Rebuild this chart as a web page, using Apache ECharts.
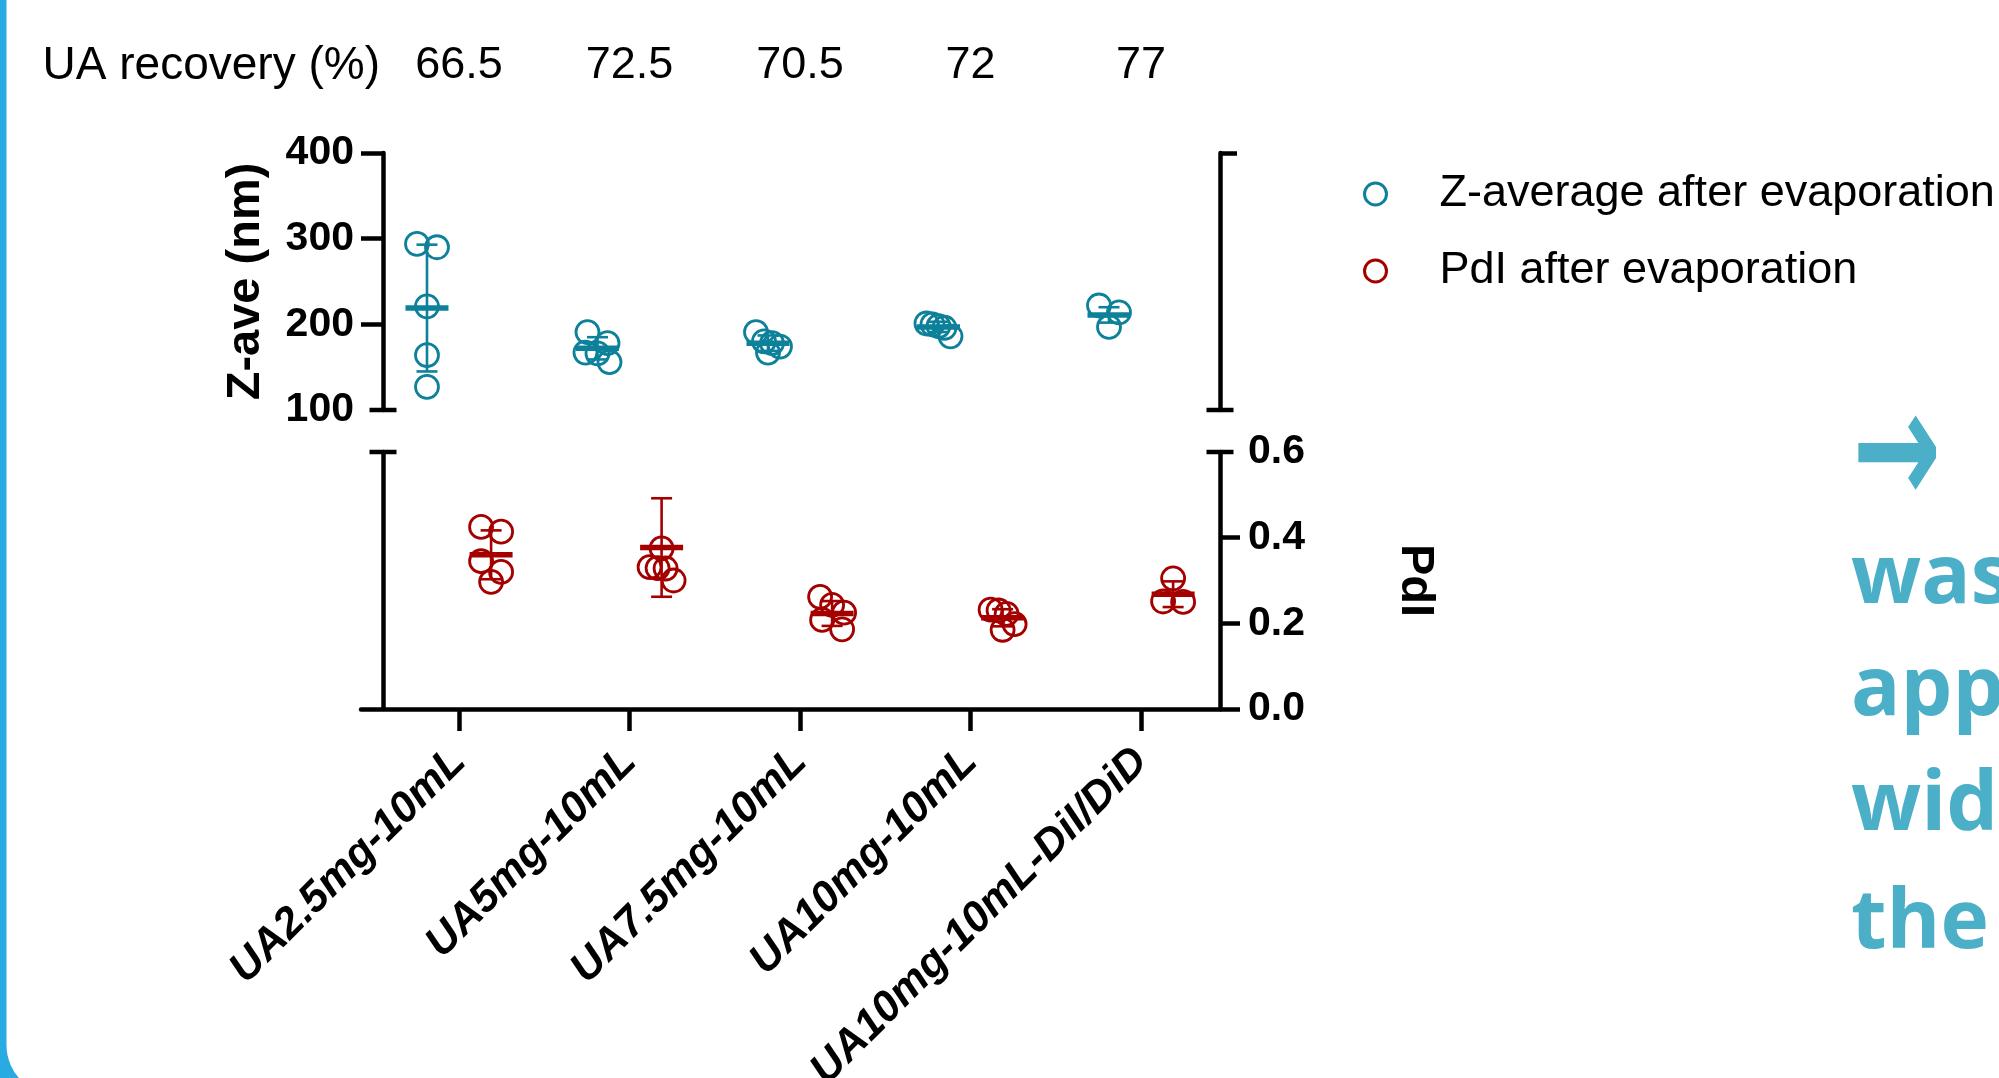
<!DOCTYPE html>
<html>
<head>
<meta charset="utf-8">
<script src="https://cdn.jsdelivr.net/npm/echarts@6/dist/echarts.min.js"></script>
<style>
  html, body { margin: 0; padding: 0; background: #ffffff; }
  #chart { width: 1999px; height: 1078px; }
</style>
</head>
<body>
<div id="chart"></div>
<script>
// ---- data ----
const categories = ['UA2.5mg-10mL', 'UA5mg-10mL', 'UA7.5mg-10mL', 'UA10mg-10mL', 'UA10mg-10mL-DiI/DiD'];
const recovery = ['66.5', '72.5', '70.5', '72', '77'];

// Z-average (nm), individual replicates per formulation
const zPoints = [
  [294, 290, 221, 164, 127],
  [191, 178, 167, 166, 156],
  [191, 180, 178, 174, 167],
  [201, 200, 198, 196, 186],
  [222, 214, 197]
];
const zMean = [219, 172, 178, 197, 211];
const zSD = [74, 13, 9, 6, 9];

// PdI, individual replicates per formulation
const pdiPoints = [
  [0.425, 0.414, 0.345, 0.320, 0.297],
  [0.375, 0.331, 0.329, 0.328, 0.300],
  [0.262, 0.243, 0.225, 0.208, 0.186],
  [0.232, 0.230, 0.222, 0.198, 0.185],
  [0.305, 0.251, 0.250]
];
const pdiMean = [0.360, 0.377, 0.223, 0.213, 0.268];
const pdiSD = [0.057, 0.115, 0.029, 0.020, 0.030];

const zTicks = [100, 200, 300, 400];
const pdiTicks = [0, 0.2, 0.4, 0.6];

// ---- layout & style ----
const FONT = '"Liberation Sans", Arial, sans-serif';
const TEAL = '#0d8199';
const RED = '#a40000';
const BLUE = '#29abe2';
const CYAN = '#4bafc8';
const AXIS_W = 4.5;

const PLOT_LEFT = 361;      // start of the x-axis line
const PLOT_RIGHT = 1220;    // right y axes
const AXIS_SHIFT = 22;      // left y axes sit this far inside the x-axis start
const TOP_Y = 153;
const BOT_Y = 452;
const PANEL_H = 257;
const X_MIN = -0.575;
const X_MAX = 4.463;
const CAT_PX = (PLOT_RIGHT - PLOT_LEFT) / (X_MAX - X_MIN);
const SIDE = 0.188;         // Z-ave dots left of the category, PdI dots right of it
const Z_RANGE = [zTicks[0], zTicks[zTicks.length - 1]];
const P_RANGE = [pdiTicks[0], pdiTicks[pdiTicks.length - 1]];
const catIdx = categories.map((c, i) => i);

// simple beeswarm: replicates closer than ~16 px share a row and get spread sideways
function spreadOffsets(vals, pxPerUnit) {
  const order = vals.map((v, i) => i).sort((a, b) => vals[b] - vals[a]);
  const rows = [];
  order.forEach(i => {
    const row = rows[rows.length - 1];
    if (row && (vals[row[0]] - vals[i]) * pxPerUnit < 16) row.push(i);
    else rows.push([i]);
  });
  const off = vals.map(() => 0);
  rows.forEach(row => {
    const k = row.length;
    const step = k > 1 ? Math.min(20, 24 / (k - 1)) : 0;
    row.forEach((i, j) => { off[i] = (j - (k - 1) / 2) * step; });
  });
  return off;
}

function dots(points, side, pxPerUnit) {
  const out = [];
  points.forEach((vals, c) => {
    const off = spreadOffsets(vals, pxPerUnit);
    vals.forEach((v, k) => out.push([c + side + off[k] / CAT_PX, v]));
  });
  return out;
}

// mean bar with ± SD whiskers
function statRenderer(side) {
  return function (params, api) {
    const x = api.value(0) + side;
    const m = api.value(1);
    const s = api.value(2);
    const c = api.coord([x, m]);
    const hi = api.coord([x, m + s]);
    const lo = api.coord([x, m - s]);
    const color = api.visual('color');
    const thin = { stroke: color, lineWidth: 2.6 };
    return {
      type: 'group',
      children: [
        { type: 'line', shape: { x1: c[0], y1: hi[1], x2: c[0], y2: lo[1] }, style: thin },
        { type: 'line', shape: { x1: c[0] - 10.5, y1: hi[1], x2: c[0] + 10.5, y2: hi[1] }, style: thin },
        { type: 'line', shape: { x1: c[0] - 10.5, y1: lo[1], x2: c[0] + 10.5, y2: lo[1] }, style: thin },
        { type: 'line', shape: { x1: c[0] - 21.5, y1: c[1], x2: c[0] + 21.5, y2: c[1] }, style: { stroke: color, lineWidth: 5.5 } }
      ]
    };
  };
}

const axisLineStyle = { color: '#000', width: AXIS_W };
const capSize = [27, AXIS_W];

const chart = echarts.init(document.getElementById('chart'), null, { width: 1999, height: 1078, renderer: 'canvas' });

const option = {
  animation: false,
  textStyle: { fontFamily: FONT, color: '#000' },
  graphic: [
    { type: 'rect', z: -20, silent: true, shape: { x: 0, y: 0, width: 60, height: 1078 }, style: { fill: BLUE } },
    { type: 'rect', z: -19, silent: true, shape: { x: 6.5, y: -60, width: 2100, height: 1155, r: 50 }, style: { fill: '#ffffff' } },
    { type: 'text', x: 1897, y: 457, scaleY: 1.55, style: { text: '\u2192', font: 'bold 106px "Noto Sans", "DejaVu Sans"', fill: CYAN, align: 'center', verticalAlign: 'middle' } },
    { type: 'text', x: 1851, y: 580, style: { text: 'was', font: 'bold 82px "Open Sans"', fill: CYAN, verticalAlign: 'middle' } },
    { type: 'text', x: 1851, y: 692, style: { text: 'app', font: 'bold 82px "Open Sans"', fill: CYAN, verticalAlign: 'middle' } },
    { type: 'text', x: 1851, y: 807, style: { text: 'wid', font: 'bold 82px "Open Sans"', fill: CYAN, verticalAlign: 'middle' } },
    { type: 'text', x: 1851, y: 925, style: { text: 'the', font: 'bold 82px "Open Sans"', fill: CYAN, verticalAlign: 'middle' } }
  ],
  legend: {
    orient: 'vertical',
    left: 1358,
    top: 164,
    itemWidth: 22,
    itemHeight: 22,
    itemGap: 27,
    icon: 'circle',
    selectedMode: false,
    textStyle: { fontSize: 45, color: '#000', fontFamily: FONT, lineHeight: 50, padding: [0, 0, 0, 48], width: 500, overflow: 'none' },
    data: [
      { name: 'Z-average after evaporation', itemStyle: { color: 'rgba(0,0,0,0)', borderColor: TEAL, borderWidth: 3 } },
      { name: 'PdI after evaporation', itemStyle: { color: 'rgba(0,0,0,0)', borderColor: RED, borderWidth: 3 } }
    ]
  },
  grid: [
    { left: PLOT_LEFT, width: PLOT_RIGHT - PLOT_LEFT, top: TOP_Y, height: PANEL_H, outerBoundsMode: 'none', containLabel: false },
    { left: PLOT_LEFT, width: PLOT_RIGHT - PLOT_LEFT, top: BOT_Y, height: PANEL_H, outerBoundsMode: 'none', containLabel: false }
  ],
  xAxis: [
    {
      gridIndex: 0, type: 'value', position: 'top', min: X_MIN, max: X_MAX,
      offset: TOP_Y - 66,
      axisLine: { show: false, onZero: false }, axisTick: { show: false }, splitLine: { show: false },
      axisLabel: {
        customValues: catIdx, formatter: v => recovery[Math.round(v)],
        fontSize: 45, color: '#000', margin: 0, verticalAlign: 'middle'
      },
      name: 'UA recovery (%)', nameLocation: 'start', nameGap: -19,
      nameTextStyle: { fontSize: 46, color: '#000', align: 'right', verticalAlign: 'middle' }
    },
    {
      gridIndex: 1, type: 'value', position: 'bottom', min: X_MIN, max: X_MAX,
      axisLine: { show: true, onZero: false, lineStyle: axisLineStyle },
      axisTick: { show: true, customValues: catIdx, length: 22, lineStyle: { color: '#000', width: AXIS_W } },
      splitLine: { show: false },
      axisLabel: {
        customValues: catIdx, formatter: v => categories[Math.round(v)],
        rotate: 45, fontSize: 43, fontWeight: 'bold', fontStyle: 'italic', color: '#000', margin: 46
      }
    }
  ],
  yAxis: [
    {
      gridIndex: 0, type: 'value', position: 'left', offset: -AXIS_SHIFT,
      min: Z_RANGE[0], max: Z_RANGE[1], interval: 100,
      axisLine: { show: true, onZero: false, lineStyle: axisLineStyle, symbol: ['rect', 'none'], symbolSize: capSize },
      axisTick: { show: true, customValues: zTicks.slice(1), length: 22, lineStyle: { color: '#000', width: AXIS_W } },
      axisLabel: { customValues: zTicks, fontSize: 41, fontWeight: 'bold', color: '#000', margin: 29 },
      splitLine: { show: false },
      name: 'Z-ave (nm)', nameLocation: 'middle', nameGap: 113, nameMoveOverlap: false,
      nameTextStyle: { fontSize: 47, fontWeight: 'bold', color: '#000' }
    },
    {
      gridIndex: 0, type: 'value', position: 'right',
      min: Z_RANGE[0], max: Z_RANGE[1], interval: 100,
      axisLine: { show: true, onZero: false, lineStyle: axisLineStyle, symbol: ['rect', 'none'], symbolSize: capSize },
      axisTick: { show: true, customValues: [Z_RANGE[1]], length: 17, lineStyle: { color: '#000', width: AXIS_W } },
      axisLabel: { show: false },
      splitLine: { show: false }
    },
    {
      gridIndex: 1, type: 'value', position: 'left', offset: -AXIS_SHIFT,
      min: P_RANGE[0], max: P_RANGE[1], interval: 0.2,
      axisLine: { show: true, onZero: false, lineStyle: axisLineStyle, symbol: ['none', 'rect'], symbolSize: capSize },
      axisTick: { show: false },
      axisLabel: { show: false },
      splitLine: { show: false }
    },
    {
      gridIndex: 1, type: 'value', position: 'right',
      min: P_RANGE[0], max: P_RANGE[1], interval: 0.2,
      axisLine: { show: true, onZero: false, lineStyle: axisLineStyle, symbol: ['none', 'rect'], symbolSize: capSize },
      axisTick: { show: true, customValues: pdiTicks.slice(0, -1), length: 20, lineStyle: { color: '#000', width: AXIS_W } },
      axisLabel: { customValues: pdiTicks, formatter: v => v.toFixed(1), fontSize: 41, fontWeight: 'bold', color: '#000', margin: 28 },
      splitLine: { show: false },
      name: 'PdI', nameLocation: 'middle', nameRotate: -90, nameGap: 171, nameMoveOverlap: false,
      nameTextStyle: { fontSize: 47, fontWeight: 'bold', color: '#000' }
    }
  ],
  series: [
    {
      name: 'Z-average after evaporation', type: 'scatter', xAxisIndex: 0, yAxisIndex: 0,
      symbol: 'circle', symbolSize: 23,
      itemStyle: { color: 'rgba(0,0,0,0)', borderColor: TEAL, borderWidth: 2.8, opacity: 1 },
      emphasis: { disabled: true },
      data: dots(zPoints, -SIDE, PANEL_H / (Z_RANGE[1] - Z_RANGE[0])),
      z: 3
    },
    {
      name: 'Z-average mean ± SD', type: 'custom', xAxisIndex: 0, yAxisIndex: 0,
      itemStyle: { color: TEAL },
      renderItem: statRenderer(-SIDE),
      encode: { x: 0, y: 1 },
      data: zMean.map((m, i) => [i, m, zSD[i]]),
      z: 4
    },
    {
      name: 'PdI after evaporation', type: 'scatter', xAxisIndex: 1, yAxisIndex: 3,
      symbol: 'circle', symbolSize: 23,
      itemStyle: { color: 'rgba(0,0,0,0)', borderColor: RED, borderWidth: 2.8, opacity: 1 },
      emphasis: { disabled: true },
      data: dots(pdiPoints, SIDE, PANEL_H / (P_RANGE[1] - P_RANGE[0])),
      z: 3
    },
    {
      name: 'PdI mean ± SD', type: 'custom', xAxisIndex: 1, yAxisIndex: 3,
      itemStyle: { color: RED },
      renderItem: statRenderer(SIDE),
      encode: { x: 0, y: 1 },
      data: pdiMean.map((m, i) => [i, m, pdiSD[i]]),
      z: 4
    }
  ]
};

chart.setOption(option);
</script>
</body>
</html>
